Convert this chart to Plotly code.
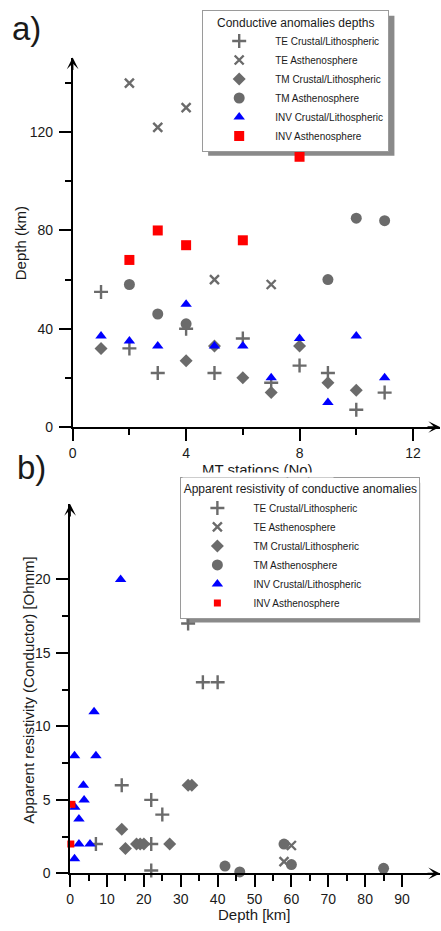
import plotly.graph_objects as go

W, H = 441, 931
FONT = "Liberation Sans, Arial, sans-serif"
GRAY = "#6b6b6b"
INK = "#1a1a1a"

# ---------------- data: panel a (station number vs depth) ----------------
series_names = ["TE Crustal/Lithospheric", "TE Asthenosphere", "TM Crustal/Lithospheric",
                "TM Asthenosphere", "INV Crustal/Lithospheric", "INV Asthenosphere"]

a_te_crust_x = [1, 2, 3, 4, 5, 6, 7, 8, 9, 10, 11]
a_te_crust_y = [55, 32, 22, 40, 22, 36, 18, 25, 22, 7, 14]
a_te_asth_x = [2, 3, 4, 5, 7]
a_te_asth_y = [140, 122, 130, 60, 58]
a_tm_crust_x = [1, 4, 5, 6, 7, 8, 9, 10]
a_tm_crust_y = [32, 27, 33, 20, 14, 33, 18, 15]
a_tm_asth_x = [2, 3, 4, 9, 10, 11]
a_tm_asth_y = [58, 46, 42, 60, 85, 84]
a_inv_crust_x = [1, 2, 3, 4, 5, 6, 7, 8, 9, 10, 11]
a_inv_crust_y = [37, 35, 33, 50, 33, 33, 20, 36, 10, 37, 20]
a_inv_asth_x = [2, 3, 4, 6, 8]
a_inv_asth_y = [68, 80, 74, 76, 110]

# ---------------- data: panel b (depth vs apparent resistivity) ----------------
b_te_crust_x = [7, 14, 22, 22, 22, 25, 32, 36, 40]
b_te_crust_y = [2, 6, 5, 2, 0.2, 4, 17, 13, 13]
b_te_asth_x = [58, 60]
b_te_asth_y = [0.8, 1.9]
b_tm_crust_x = [14, 15, 18, 19, 20, 27, 32, 33]
b_tm_crust_y = [3, 1.7, 2, 2, 2, 2, 6, 6]
b_tm_asth_x = [42, 46, 58, 60, 85]
b_tm_asth_y = [0.5, 0.1, 2, 0.6, 0.35]
b_inv_crust_x = [1.2, 1.2, 1.3, 2.4, 2.4, 3.6, 3.8, 5.4, 6.5, 7, 13.7]
b_inv_crust_y = [8, 1, 4.5, 3.7, 2, 6, 5, 2, 11, 8, 20]
b_inv_asth_x = [0.5, 0.2]
b_inv_asth_y = [4.7, 2]

# tick values
a_x_major = [0, 4, 8, 12]
a_x_minor = [2, 6, 10]
a_y_major = [0, 40, 80, 120]
a_y_minor = [20, 60, 100, 140]
b_x_major = [0, 10, 20, 30, 40, 50, 60, 70, 80, 90]
b_x_minor = [5, 15, 25, 35, 45, 55, 65, 75, 85]
b_y_major = [0, 5, 10, 15, 20]
b_y_minor = [2.5, 7.5, 12.5, 17.5]

styles = [
    dict(symbol="cross-thin", size=10, color=GRAY, line=dict(width=2.4, color=GRAY)),
    dict(symbol="x-thin", size=9, color=GRAY, line=dict(width=2.4, color=GRAY)),
    dict(symbol="diamond", size=10, color=GRAY, line=dict(width=0)),
    dict(symbol="circle", size=11, color=GRAY, line=dict(width=0)),
    dict(symbol="triangle-up", size=10, color="#0000ff", line=dict(width=0)),
    dict(symbol="square", size=10, color="#ff0000", line=dict(width=0)),
]

fig = go.Figure()

a_sets = [(a_te_crust_x, a_te_crust_y), (a_te_asth_x, a_te_asth_y), (a_tm_crust_x, a_tm_crust_y),
          (a_tm_asth_x, a_tm_asth_y), (a_inv_crust_x, a_inv_crust_y), (a_inv_asth_x, a_inv_asth_y)]
b_sets = [(b_te_crust_x, b_te_crust_y), (b_te_asth_x, b_te_asth_y), (b_tm_crust_x, b_tm_crust_y),
          (b_tm_asth_x, b_tm_asth_y), (b_inv_crust_x, b_inv_crust_y), (b_inv_asth_x, b_inv_asth_y)]

for name, (xs, ys), st in zip(series_names, a_sets, styles):
    fig.add_trace(go.Scatter(x=xs, y=ys, mode="markers", name=name, marker=st,
                             xaxis="x", yaxis="y", legend="legend", cliponaxis=False))
for i, (name, (xs, ys), st) in enumerate(zip(series_names, b_sets, styles)):
    stb = dict(st, size=7) if i == 5 else dict(st)
    fig.add_trace(go.Scatter(x=xs, y=ys, mode="markers", name=name, marker=stb,
                             xaxis="x2", yaxis="y2", legend="legend2", cliponaxis=False))


def px_x(p):
    return p / W


def px_y(p):
    return 1 - p / H


tickfont = dict(family=FONT, size=14, color=INK)


def axis(domain, rng, major, minor, anchor, standoff):
    return dict(domain=domain, range=rng, anchor=anchor, showline=True, linecolor="black",
                linewidth=1.5, ticks="outside", ticklen=12, tickwidth=1.5, tickcolor="black",
                tickmode="array", tickvals=major, showgrid=False, zeroline=False,
                tickfont=tickfont, ticklabelstandoff=standoff, fixedrange=True,
                minor=dict(tickmode="array", tickvals=minor, ticks="outside", ticklen=6,
                           tickwidth=1.5, tickcolor="black", showgrid=False))


# pixel geometry of the two panels
a_x0, a_x1 = 69.3, 440.0
a_y0, a_y1 = 430.7, 58.0
b_x0, b_x1 = 66.7, 440.0
b_y0, b_y1 = 881.0, 508.3

# legend boxes (pixels) and their drop shadows
LA_X, LA_Y, LA_W, LA_H = 200, 10, 188, 141
LB_X, LB_Y, LB_W, LB_H = 178, 481, 236, 141
SH = 6

fig.update_layout(
    width=W, height=H, autosize=False,
    margin=dict(l=0, r=0, t=0, b=0),
    paper_bgcolor="white", plot_bgcolor="rgba(0,0,0,0)",
    font=dict(family=FONT, color=INK),
    xaxis=axis([px_x(a_x0), px_x(a_x1)], [0, (a_x1 - a_x0) / 28.62], a_x_major, a_x_minor, "y", 0),
    yaxis=axis([px_y(a_y0), px_y(a_y1)], [0, (a_y0 - a_y1) / 2.478], a_y_major, a_y_minor, "x", 3),
    xaxis2=axis([px_x(b_x0), px_x(b_x1)], [0, (b_x1 - b_x0) / 3.722], b_x_major, b_x_minor, "y2", 0),
    yaxis2=axis([px_y(b_y0), px_y(b_y1)], [0, (b_y0 - b_y1) / 14.83], b_y_major, b_y_minor, "x2", 3),
    showlegend=True,
    legend=dict(x=px_x(LA_X), y=px_y(LA_Y), xanchor="left", yanchor="top", bgcolor="white",
                bordercolor="#9a9a9a", borderwidth=1, itemwidth=62, tracegroupgap=0,
                font=dict(family=FONT, size=10, color=INK),
                title=dict(text="Conductive anomalies depths", side="top center",
                           font=dict(family=FONT, size=12, color=INK))),
    legend2=dict(x=px_x(LB_X), y=px_y(LB_Y), xanchor="left", yanchor="top", bgcolor="white",
                 bordercolor="#9a9a9a", borderwidth=1, itemwidth=62, tracegroupgap=0,
                 font=dict(family=FONT, size=10, color=INK),
                 title=dict(text="Apparent resistivity of conductive anomalies", side="top center",
                            font=dict(family=FONT, size=12, color=INK))),
)

for (lx, ly, lw, lh) in [(LA_X, LA_Y, LA_W, LA_H), (LB_X, LB_Y, LB_W, LB_H)]:
    fig.add_shape(type="rect", xref="paper", yref="paper", layer="below",
                  x0=px_x(lx + SH), x1=px_x(lx + lw + SH), y0=px_y(ly + SH), y1=px_y(ly + lh + SH),
                  fillcolor="#8a8a8a", line=dict(width=0))


def arrow(xp, yp, dx, dy):
    fig.add_annotation(x=px_x(xp), y=px_y(yp), xref="paper", yref="paper", ax=dx, ay=dy,
                       showarrow=True, arrowhead=3, arrowsize=1.3, arrowwidth=1.5,
                       arrowcolor="black", text="", standoff=0)


arrow(a_x1, a_y0, -14, 0)
arrow(a_x0, a_y1, 0, 14)
arrow(b_x1, b_y0, -14, 0)
arrow(b_x0, b_y1, 0, 14)


def label(text, xp, yp, size=15, angle=0):
    fig.add_annotation(x=px_x(xp), y=px_y(yp), xref="paper", yref="paper", text=text,
                       showarrow=False, textangle=angle, xanchor="center", yanchor="middle",
                       font=dict(family=FONT, size=size, color=INK))


label("a)", 23, 29, size=33)
label("b)", 28, 472, size=33)
label("Depth (km)", 17.5, 245, angle=-90)
label("MT stations (No)", 256, 474)
label("Apparent resistivity (Conductor) [Ohmm]", 24.5, 695.5, angle=-90)
label("Depth [km]", 253, 922.5)
# panel b overlaps the lower part of panel a's x-axis title
fig.add_annotation(x=px_x(256), y=px_y(476), xref="paper", yref="paper", text=" ",
                   showarrow=False, xanchor="center", yanchor="top", width=150, height=4,
                   bgcolor="white", borderpad=0, font=dict(size=4))

fig.write_html("out.html", config={"displayModeBar": False},
               post_script="document.body.style.margin='0';")
